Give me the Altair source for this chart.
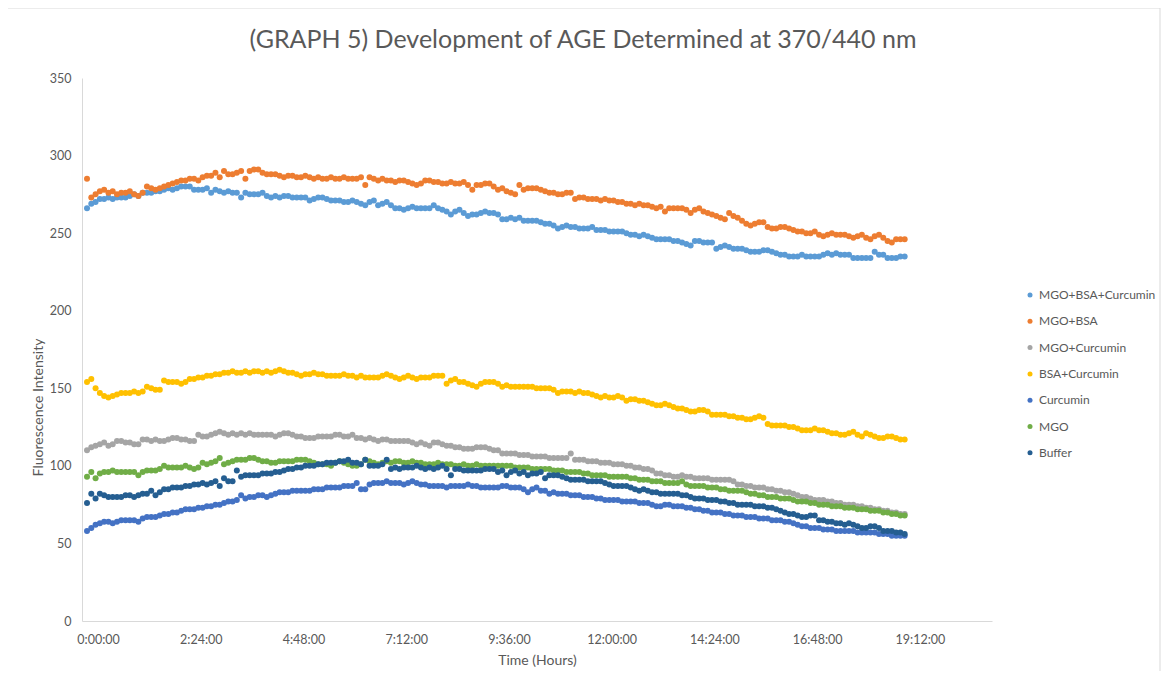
import altair as alt
import pandas as pd

SERIES = ["MGO+BSA+Curcumin", "MGO+BSA", "MGO+Curcumin", "BSA+Curcumin", "Curcumin", "MGO", "Buffer"]
COLORS = ["#5B9BD5", "#ED7D31", "#A5A5A5", "#FFC000", "#4472C4", "#70AD47", "#255E91"]
STEP_HOURS = 0.1
X_TICKS = [0, 2.4, 4.8, 7.2, 9.6, 12.0, 14.4, 16.8, 19.2]
X_TICK_LABELS = ["0:00:00", "2:24:00", "4:48:00", "7:12:00", "9:36:00", "12:00:00", "14:24:00", "16:48:00", "19:12:00"]
Y_TICKS = [0, 50, 100, 150, 200, 250, 300, 350]
LABEL_SHIFT_HOURS = 0.257  # the reference's time labels sit slightly right of the data
TITLE = "(GRAPH 5) Development of AGE Determined at 370/440 nm"

MGO_BSA_CURCUMIN = [
    266, 269, 270, 272, 272, 273, 272, 273, 273, 273,
    274, 275, 274, 276, 276, 276, 277, 277, 278, 279,
    278, 279, 280, 280, 280, 278, 278, 278, 279, 276,
    278, 277, 276, 277, 276, 276, 273, 276, 275, 275,
    275, 276, 274, 273, 274, 273, 274, 274, 273, 273,
    273, 273, 271, 272, 273, 273, 272, 271, 271, 271,
    270, 270, 271, 270, 269, 268, 270, 271, 268, 269,
    270, 268, 266, 266, 265, 266, 267, 266, 266, 266,
    266, 268, 266, 265, 264, 262, 264, 265, 263, 261,
    262, 262, 263, 264, 263, 263, 262, 259, 259, 260,
    259, 260, 258, 258, 258, 258, 257, 256, 256, 255,
    253, 254, 255, 254, 254, 253, 253, 253, 254, 252,
    252, 252, 251, 251, 251, 251, 250, 249, 249, 248,
    249, 248, 247, 246, 246, 246, 246, 245, 245, 244,
    243, 242, 245, 245, 244, 244, 244, 240, 241, 242,
    241, 240, 240, 240, 239, 238, 238, 238, 239, 239,
    238, 237, 236, 236, 235, 235, 235, 236, 235, 235,
    235, 235, 236, 237, 236, 237, 236, 236, 236, 234,
    234, 234, 234, 234, 238, 236, 236, 234, 234, 234,
    235, 235,
]

MGO_BSA = [
    285, 273, 275, 277, 278, 276, 277, 275, 276, 276,
    277, 275, 274, 276, 280, 279, 278, 279, 280, 281,
    282, 283, 284, 284, 285, 285, 284, 286, 287, 287,
    289, 286, 290, 288, 288, 289, 290, 285, 290, 291,
    291, 289, 288, 288, 288, 287, 286, 287, 287, 286,
    286, 287, 286, 285, 286, 285, 285, 286, 285, 285,
    286, 285, 285, 285, 286, 281, 286, 285, 284, 285,
    284, 284, 283, 284, 284, 283, 282, 281, 282, 284,
    284, 283, 283, 282, 282, 283, 282, 282, 283, 281,
    278, 281, 281, 282, 282, 280, 278, 279, 277, 276,
    275, 281, 278, 279, 279, 279, 278, 277, 276, 276,
    275, 275, 276, 276, 272, 273, 273, 272, 272, 272,
    271, 272, 271, 271, 270, 270, 269, 269, 268, 269,
    268, 268, 267, 266, 267, 264, 266, 266, 266, 266,
    265, 263, 265, 266, 264, 263, 262, 261, 260, 259,
    263, 261, 260, 258, 256, 255, 256, 257, 257, 254,
    253, 253, 254, 254, 253, 252, 251, 251, 250, 250,
    251, 249, 248, 249, 250, 249, 249, 249, 248, 247,
    248, 249, 247, 246, 248, 249, 247, 245, 244, 246,
    246, 246,
]

MGO_CURCUMIN = [
    110, 112, 113, 114, 115, 113, 114, 116, 116, 115,
    115, 114, 114, 117, 117, 116, 117, 116, 116, 117,
    118, 118, 117, 117, 116, 116, 120, 119, 119, 120,
    121, 122, 121, 120, 121, 120, 121, 120, 121, 120,
    120, 120, 120, 120, 119, 120, 121, 121, 120, 119,
    119, 118, 118, 118, 119, 119, 119, 119, 120, 120,
    119, 119, 120, 118, 118, 117, 118, 117, 116, 117,
    117, 116, 116, 116, 116, 116, 115, 114, 115, 114,
    113, 115, 115, 114, 113, 113, 112, 112, 111, 111,
    111, 112, 112, 112, 111, 110, 110, 108, 108, 108,
    108, 107, 107, 107, 106, 106, 106, 106, 105, 105,
    105, 105, 105, 108, 104, 104, 104, 103, 103, 103,
    102, 102, 102, 101, 101, 101, 100, 100, 99, 99,
    98, 98, 97, 95, 95, 94, 94, 93, 93, 94,
    93, 93, 92, 92, 92, 92, 91, 91, 91, 91,
    91, 90, 88, 88, 87, 87, 86, 86, 86, 85,
    85, 84, 84, 83, 83, 82, 81, 80, 80, 79,
    78, 78, 78, 77, 77, 76, 76, 75, 75, 75,
    74, 74, 73, 73, 72, 72, 71, 71, 70, 70,
    69, 69,
]

BSA_CURCUMIN = [
    154, 156, 150, 147, 145, 144, 145, 146, 147, 147,
    147, 148, 147, 148, 151, 150, 149, 149, 155, 154,
    154, 154, 153, 154, 156, 156, 157, 157, 158, 158,
    159, 159, 160, 160, 161, 160, 160, 161, 160, 161,
    161, 160, 161, 160, 161, 162, 161, 160, 160, 159,
    158, 159, 159, 160, 159, 159, 158, 158, 158, 158,
    159, 158, 158, 157, 158, 157, 157, 157, 157, 158,
    159, 158, 157, 156, 157, 158, 157, 156, 157, 157,
    157, 158, 158, 158, 153, 155, 156, 154, 154, 153,
    152, 151, 153, 154, 154, 154, 153, 151, 152, 151,
    151, 151, 151, 151, 151, 150, 150, 150, 150, 149,
    147, 148, 148, 148, 147, 148, 147, 147, 146, 145,
    144, 145, 144, 144, 145, 144, 142, 143, 143, 142,
    142, 141, 140, 139, 139, 140, 139, 138, 137, 137,
    136, 135, 135, 136, 136, 135, 133, 133, 133, 133,
    132, 132, 131, 131, 130, 130, 131, 132, 131, 127,
    126, 126, 126, 126, 125, 125, 124, 123, 123, 123,
    124, 123, 123, 122, 121, 121, 120, 120, 121, 122,
    120, 119, 121, 120, 119, 118, 118, 119, 119, 118,
    117, 117,
]

CURCUMIN = [
    58, 60, 62, 63, 64, 64, 63, 64, 65, 65,
    65, 65, 64, 66, 67, 67, 67, 68, 69, 69,
    70, 70, 71, 72, 72, 72, 73, 73, 74, 74,
    75, 75, 76, 77, 77, 78, 81, 79, 80, 80,
    81, 81, 80, 81, 82, 83, 83, 83, 84, 84,
    84, 84, 84, 85, 85, 85, 86, 86, 86, 86,
    87, 87, 87, 89, 85, 85, 88, 89, 89, 89,
    90, 89, 89, 89, 88, 89, 90, 89, 88, 88,
    87, 87, 87, 87, 86, 87, 87, 87, 87, 88,
    87, 87, 86, 86, 86, 86, 86, 87, 87, 86,
    86, 86, 85, 83, 85, 86, 84, 84, 82, 83,
    82, 82, 82, 81, 81, 81, 80, 80, 80, 79,
    79, 78, 78, 78, 78, 77, 77, 77, 77, 76,
    76, 76, 75, 74, 74, 75, 75, 74, 74, 74,
    73, 73, 72, 72, 71, 71, 70, 70, 70, 69,
    69, 68, 68, 68, 67, 67, 67, 66, 66, 66,
    65, 65, 65, 64, 64, 63, 62, 61, 61, 60,
    60, 60, 59, 59, 59, 58, 58, 58, 58, 58,
    57, 57, 57, 57, 57, 56, 56, 56, 55, 55,
    55, 55,
]

MGO = [
    93, 96, 92, 95, 96, 96, 97, 96, 96, 96,
    96, 96, 94, 96, 97, 97, 97, 98, 100, 99,
    99, 99, 99, 100, 99, 98, 99, 102, 101, 102,
    103, 105, 101, 102, 103, 104, 104, 104, 105, 105,
    104, 103, 103, 102, 102, 103, 103, 103, 103, 104,
    104, 104, 103, 102, 101, 101, 101, 100, 102, 103,
    102, 101, 100, 100, 101, 104, 103, 102, 101, 102,
    103, 102, 103, 103, 102, 102, 103, 102, 102, 101,
    101, 101, 102, 101, 101, 101, 100, 100, 101, 100,
    100, 101, 100, 100, 100, 100, 100, 100, 100, 100,
    99, 99, 99, 99, 98, 98, 98, 98, 98, 97,
    97, 97, 96, 96, 96, 96, 95, 95, 94, 94,
    94, 94, 93, 93, 93, 93, 93, 92, 92, 91,
    91, 91, 90, 90, 90, 89, 89, 89, 89, 90,
    88, 87, 87, 87, 87, 86, 86, 86, 85, 85,
    84, 84, 84, 84, 83, 82, 82, 81, 81, 80,
    80, 80, 79, 79, 79, 78, 77, 77, 77, 76,
    76, 75, 75, 75, 74, 74, 74, 73, 73, 73,
    72, 72, 72, 71, 71, 71, 70, 70, 69, 69,
    68, 68,
]

BUFFER = [
    76, 82, 79, 82, 81, 80, 80, 80, 80, 81,
    81, 80, 81, 82, 82, 84, 81, 83, 85, 85,
    86, 86, 86, 87, 87, 88, 88, 89, 88, 89,
    90, 87, 92, 90, 90, 97, 93, 94, 94, 94,
    94, 95, 95, 95, 96, 96, 97, 98, 98, 99,
    99, 100, 100, 100, 101, 101, 102, 102, 102, 103,
    103, 104, 102, 102, 101, 104, 100, 100, 100, 101,
    104, 98, 99, 98, 99, 99, 99, 100, 99, 98,
    99, 98, 99, 100, 98, 94, 98, 98, 97, 97,
    97, 97, 97, 98, 98, 98, 96, 97, 94, 96,
    97, 95, 96, 94, 95, 95, 96, 92, 94, 94,
    94, 93, 92, 91, 91, 91, 91, 90, 90, 90,
    90, 89, 88, 87, 87, 87, 87, 86, 85, 84,
    85, 84, 83, 83, 82, 82, 82, 82, 82, 81,
    81, 80, 79, 79, 79, 78, 78, 78, 77, 77,
    76, 76, 75, 75, 75, 75, 74, 74, 74, 73,
    73, 72, 71, 70, 69, 69, 68, 67, 67, 68,
    68, 65, 65, 64, 64, 63, 63, 62, 63, 62,
    61, 60, 60, 61, 61, 60, 58, 58, 58, 57,
    57, 56,
]

SERIES_VALUES = [MGO_BSA_CURCUMIN, MGO_BSA, MGO_CURCUMIN, BSA_CURCUMIN, CURCUMIN, MGO, BUFFER]

rows = []
for k, (name, vals) in enumerate(zip(SERIES, SERIES_VALUES)):
    for i, v in enumerate(vals):
        rows.append({"t": round(i * STEP_HOURS, 2), "value": v, "series": name, "series_order": k})
df = pd.DataFrame(rows)

FONT = "Lato"
GREY = "#595959"
AXIS_LINE = "#D9D9D9"

tick_positions = [round(v + LABEL_SHIFT_HOURS, 3) for v in X_TICKS]
label_expr = ("[" + ",".join("'%s'" % s for s in X_TICK_LABELS) + "]"
              "[round((datum.value - %s) / 2.4)]" % LABEL_SHIFT_HOURS)

points = alt.Chart(df).mark_circle(size=36, opacity=1).encode(
    x=alt.X(
        "t:Q",
        scale=alt.Scale(domain=[-0.117, 21.14], nice=False, zero=False),
        axis=alt.Axis(
            values=tick_positions,
            labelExpr=label_expr,
            title="Time (Hours)",
            grid=False,
            ticks=False,
            domainColor=AXIS_LINE,
            labelFont=FONT,
            labelFontSize=12.5,
            labelColor=GREY,
            labelPadding=12,
            titleFont=FONT,
            titleFontSize=14,
            titleFontWeight="normal",
            titleColor=GREY,
            titlePadding=8,
        ),
    ),
    y=alt.Y(
        "value:Q",
        scale=alt.Scale(domain=[0, 350], nice=False),
        axis=alt.Axis(
            values=Y_TICKS,
            title="Fluorescence Intensity",
            grid=False,
            ticks=False,
            domainColor=AXIS_LINE,
            labelFont=FONT,
            labelFontSize=12.5,
            labelColor=GREY,
            labelPadding=11,
            titleFont=FONT,
            titleFontSize=14,
            titleFontWeight="normal",
            titleColor=GREY,
            titleX=-44,
            titleY=329,
            titleAlign="center",
            titleBaseline="middle",
        ),
    ),
    color=alt.Color(
        "series:N",
        scale=alt.Scale(domain=SERIES, range=COLORS),
        sort=SERIES,
        legend=alt.Legend(
            title=None,
            orient="none",
            legendX=942,
            legendY=211,
            symbolType="circle",
            symbolSize=25,
            labelFont=FONT,
            labelFontSize=12,
            labelColor=GREY,
            rowPadding=14.3,
            labelOffset=3,
        ),
    ),
    order=alt.Order("series_order:Q"),
)

frame = alt.Chart(alt.Data(values=[{}])).mark_rect(
    fill=None, stroke=AXIS_LINE, strokeWidth=1, clip=False
).encode(
    x=alt.value(-76), x2=alt.value(1078), y=alt.value(-70), y2=alt.value(600)
)

title = alt.Chart(alt.Data(values=[{"label": TITLE}])).mark_text(
    font=FONT, fontSize=25, color=GREY, align="center", baseline="alphabetic"
).encode(
    text="label:N", x=alt.value(501), y=alt.value(-30)
)

chart = alt.layer(frame, points, title).properties(
    width=910,
    height=543,
    padding={"left": 74, "top": 70, "right": 169, "bottom": 50},
    autosize=alt.AutoSizeParams(type="none"),
).configure_view(stroke=None)

chart.save("out.html", embed_options={"renderer": "svg", "actions": False})
